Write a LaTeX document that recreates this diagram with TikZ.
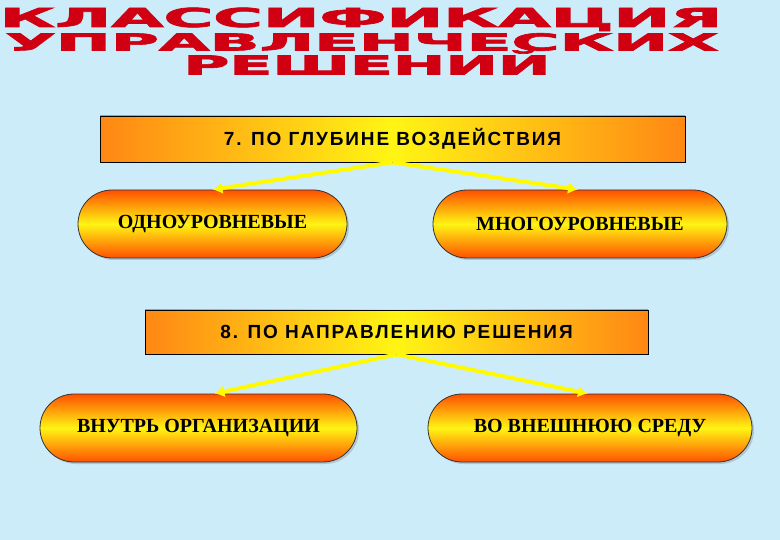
\documentclass[tikz,border=0pt]{standalone}
\usepackage{fontspec}
\setmainfont{Liberation Serif}
\newfontfamily\arialfont[LetterSpace=10]{Liberation Sans}
\newfontfamily\blockfont[BoldFeatures={FakeBold=2.5}]{DejaVu Sans}
\usetikzlibrary{arrows.meta,shadows}

\definecolor{skyback}{RGB}{204,236,250}
\definecolor{titlered}{RGB}{208,0,18}
\definecolor{flame}{RGB}{255,80,0}
\definecolor{amber}{RGB}{255,135,20}
\definecolor{lemon}{RGB}{255,245,20}
\definecolor{ray}{RGB}{255,250,0}

% red block letters, stretched so that the capitals fill #1 by #2
\newcommand{\blockword}[3]{%
    \resizebox{#1}{#2}{\blockfont\bfseries\smash{#3}\rule{0pt}{0.729em}}}

\tikzset{
    headline/.style={inner sep=0pt, text=titlered},
    rubric/.style={draw=black, line width=0.8pt, rectangle, left color=amber,
        right color=amber, middle color=lemon, inner sep=0pt,
        font=\arialfont\bfseries\fontsize{19}{22}\selectfont},
    pill/.style={draw=black!80, line width=0.8pt, rectangle, rounded corners=34pt,
        top color=flame, bottom color=flame, middle color=lemon, inner sep=0pt,
        minimum height=68pt, font=\bfseries\fontsize{20}{23}\selectfont,
        drop shadow={shadow xshift=2pt, shadow yshift=-2pt, opacity=0.35}},
    branch/.style={draw=ray, line width=4pt, -{Latex[length=10pt,width=12pt]}}
}

\begin{document}
\begin{tikzpicture}[x=1pt, y=-1pt]
        \fill [skyback] (0, 0) rectangle (780, 540);
        \useasboundingbox (0, 0) rectangle (780, 540);

        % Title
        \node [headline] (title1) at (361, 17.5) {\blockword{722pt}{19pt}{КЛАССИФИКАЦИЯ}};
        \node [headline] (title2) at (362, 42) {\blockword{713pt}{17pt}{УПРАВЛЕНЧЕСКИХ}};
        \node [headline] (title3) at (367, 65) {\blockword{367pt}{19pt}{РЕШЕНИЙ}};

        % Criterion 7 and its two kinds
        \node [rubric, minimum width=585pt, minimum height=46pt] (glubina) at (392.5, 139) {7. ПО ГЛУБИНЕ ВОЗДЕЙСТВИЯ};
        \node [pill, minimum width=269pt] (odno) at (212.5, 224) {ОДНОУРОВНЕВЫЕ};
        \node [pill, minimum width=294pt] (mnogo) at (580, 224) {МНОГОУРОВНЕВЫЕ};
        \draw [branch] (glubina.south) -- (odno.north);
        \draw [branch] (glubina.south) -- ([xshift=-2pt]mnogo.north);

        % Criterion 8 and its two kinds
        \node [rubric, minimum width=503pt, minimum height=44pt] (napr) at (396.5, 332) {8. ПО НАПРАВЛЕНИЮ РЕШЕНИЯ};
        \node [pill, minimum width=317pt] (vnutr) at (198.5, 428) {ВНУТРЬ ОРГАНИЗАЦИИ};
        \node [pill, minimum width=324pt] (vnesh) at (590, 428) {ВО ВНЕШНЮЮ СРЕДУ};
        \draw [branch] (napr.south) -- ([xshift=16pt]vnutr.north);
        \draw [branch] (napr.south) -- ([xshift=-2pt]vnesh.north);
\end{tikzpicture}
\end{document}
